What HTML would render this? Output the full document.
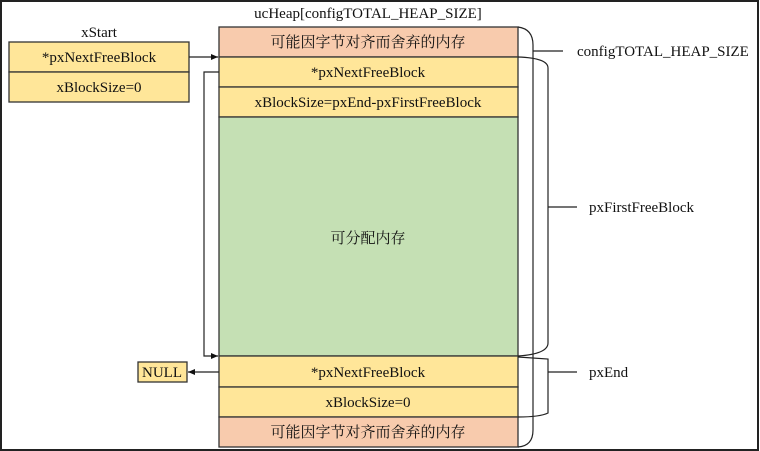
<!DOCTYPE html>
<html><head><meta charset="utf-8"><style>
html,body{margin:0;padding:0;background:#fff;}
svg{display:block;}
text{font-family:"Liberation Serif","Noto Serif CJK SC","Noto Sans CJK SC",serif;font-size:15px;fill:#111;}
</style></head><body>
<svg width="760" height="451" viewBox="0 0 760 451" xmlns="http://www.w3.org/2000/svg">
<defs><marker id="a" markerWidth="8" markerHeight="8" refX="7" refY="4" orient="auto" markerUnits="userSpaceOnUse"><path d="M0,1 L7,4 L0,7 z" fill="#111"/></marker></defs>
<rect x="1" y="1" width="757" height="449" fill="#fff" stroke="#222" stroke-width="2"/>
<g stroke="#333" stroke-width="1.3">
<rect x="219" y="27" width="299" height="30" fill="#f8cbad"/>
<rect x="219" y="57" width="299" height="30" fill="#ffe699"/>
<rect x="219" y="87" width="299" height="30" fill="#ffe699"/>
<rect x="219" y="117" width="299" height="239" fill="#c5e0b4"/>
<rect x="219" y="356" width="299" height="31" fill="#ffe699"/>
<rect x="219" y="387" width="299" height="30" fill="#ffe699"/>
<rect x="219" y="417" width="299" height="30" fill="#f8cbad"/>
<rect x="9" y="42" width="180" height="30" fill="#ffe699"/>
<rect x="9" y="72" width="180" height="30" fill="#ffe699"/>
<rect x="138" y="362" width="49" height="20" fill="#ffe699"/>
</g>
<g fill="none" stroke="#222" stroke-width="1.2">
<path d="M189,57 H218" marker-end="url(#a)"/>
<path d="M219,72 H204 V356 H218" marker-end="url(#a)"/>
<path d="M219,372 H188" marker-end="url(#a)"/>
<path d="M518,27 Q533,29 533,45 V430 Q533,446 518,447"/>
<path d="M533,51 H563"/>
<path d="M518,57 Q548,58 548,68 V343 Q548,354 518,356"/>
<path d="M548,207 H577"/>
<path d="M518,357 L548,359 V413 Q540,417 518,417"/>
<path d="M548,372 H577"/>
</g>
<text x="368" y="18" text-anchor="middle">ucHeap[configTOTAL_HEAP_SIZE]</text>
<text x="99" y="37" text-anchor="middle">xStart</text>
<text x="99" y="62" text-anchor="middle">*pxNextFreeBlock</text>
<text x="99" y="92" text-anchor="middle">xBlockSize=0</text>
<text x="368" y="47" text-anchor="middle">可能因字节对齐而舍弃的内存</text>
<text x="368" y="77" text-anchor="middle">*pxNextFreeBlock</text>
<text x="368" y="107" text-anchor="middle">xBlockSize=pxEnd-pxFirstFreeBlock</text>
<text x="368" y="243" text-anchor="middle">可分配内存</text>
<text x="368" y="377" text-anchor="middle">*pxNextFreeBlock</text>
<text x="368" y="407" text-anchor="middle">xBlockSize=0</text>
<text x="368" y="437" text-anchor="middle">可能因字节对齐而舍弃的内存</text>
<text x="162" y="377" text-anchor="middle">NULL</text>
<text x="577" y="56">configTOTAL_HEAP_SIZE</text>
<text x="589" y="212">pxFirstFreeBlock</text>
<text x="589" y="377">pxEnd</text>
</svg>
</body></html>
